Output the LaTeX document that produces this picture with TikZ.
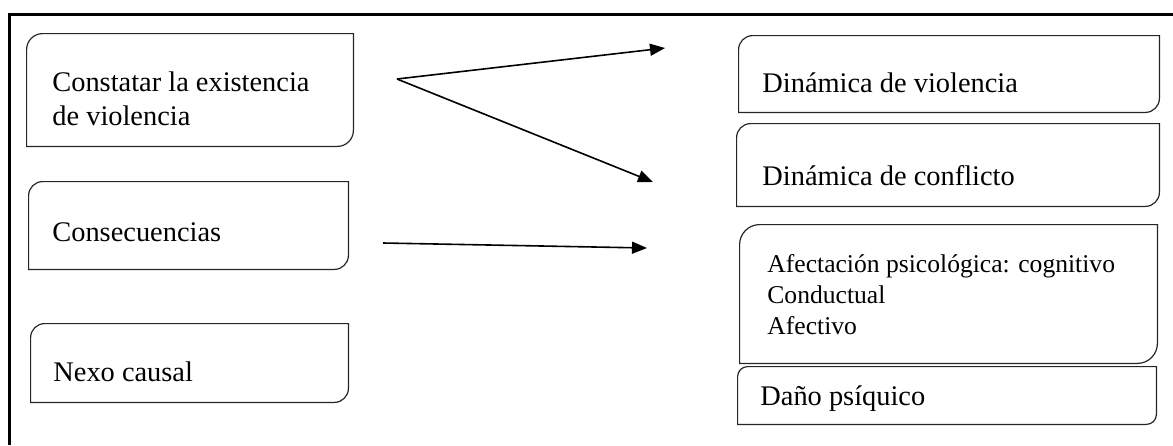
\documentclass[tikz,border=0pt]{standalone}
\usepackage{fontspec}
\setmainfont{Liberation Serif}
\usetikzlibrary{arrows.meta}
\newcommand{\drawrb}[2]{%
  \draw[boxline] (#1.south west) -- ([yshift=-#2]#1.north west)
    arc[start angle=180,end angle=90,radius=#2] -- (#1.north east)
    -- ([yshift=#2]#1.south east)
    arc[start angle=0,end angle=-90,radius=#2] -- cycle;}
\tikzset{
  boxline/.style={line width=0.6pt, draw=black!85},
  rbox/.style={draw=none, inner sep=0pt},
  txt/.style={inner sep=0pt, align=left, font=\fontsize{14.2}{16.7}\selectfont},
  smalltxt/.style={inner sep=0pt, align=left, font=\fontsize{12.8}{15.5}\selectfont},
  arr/.style={line width=0.8pt, -{Triangle[length=7.5pt,width=6pt]}},
  frame/.style={line width=1.5pt}
}
\begin{document}
\begin{tikzpicture}[x=0.5pt,y=-0.5pt]
\useasboundingbox (0,0) rectangle (1173,445);
% frame
\draw[frame] (9,445) -- (9,14) -- (1173,14);
% left boxes
\node[rbox, minimum width=163pt, minimum height=56pt] (b1) at (190,90) {};
\node[rbox, minimum width=159.5pt, minimum height=43.5pt] (b2) at (188.5,225.5) {};
\node[rbox, minimum width=158.5pt, minimum height=39pt] (b3) at (189.5,363) {};
% right boxes
\node[rbox, minimum width=210pt, minimum height=38pt] (r1) at (949,74) {};
\node[rbox, minimum width=211pt, minimum height=41pt] (r2) at (948,165) {};
\node[rbox, minimum width=208.5pt, minimum height=69pt] (r3) at (948.5,294) {};
\node[rbox, minimum width=209pt, minimum height=28.5pt] (r4) at (947,395.5) {};
\drawrb{b1}{8pt}
\drawrb{b2}{7pt}
\drawrb{b3}{7pt}
\drawrb{r1}{7pt}
\drawrb{r2}{7pt}
\drawrb{r3}{10pt}
\drawrb{r4}{5pt}
% texts (base anchor = baseline of last line)
\node[txt, anchor=base west] (t1) at (52,125) {Constatar la existencia\\de violencia};
\node[txt, anchor=base west] (t2) at (52,241.7) {Consecuencias};
\node[txt, anchor=base west] (t3) at (53,381.7) {Nexo causal};
\node[txt, anchor=base west] (tr1) at (762,92.7) {Dinámica de violencia};
\node[txt, anchor=base west] (tr2) at (762,185) {Dinámica de conflicto};
\node[smalltxt, anchor=base west] (tr3) at (767,334) {Afectación psicológica: cognitivo\\Conductual\\Afectivo};
\node[txt, anchor=base west] (tr4) at (760,405) {Daño psíquico};
% arrows
\coordinate (apex) at (397,79);
\coordinate (e1) at (665,48);
\coordinate (e2) at (653,182);
\coordinate (s3) at (383,243);
\coordinate (e3) at (647,248);
\draw[arr] (apex) -- (e1);
\draw[arr] (apex) -- (e2);
\draw[arr] (s3) -- (e3);
\end{tikzpicture}
\end{document}
